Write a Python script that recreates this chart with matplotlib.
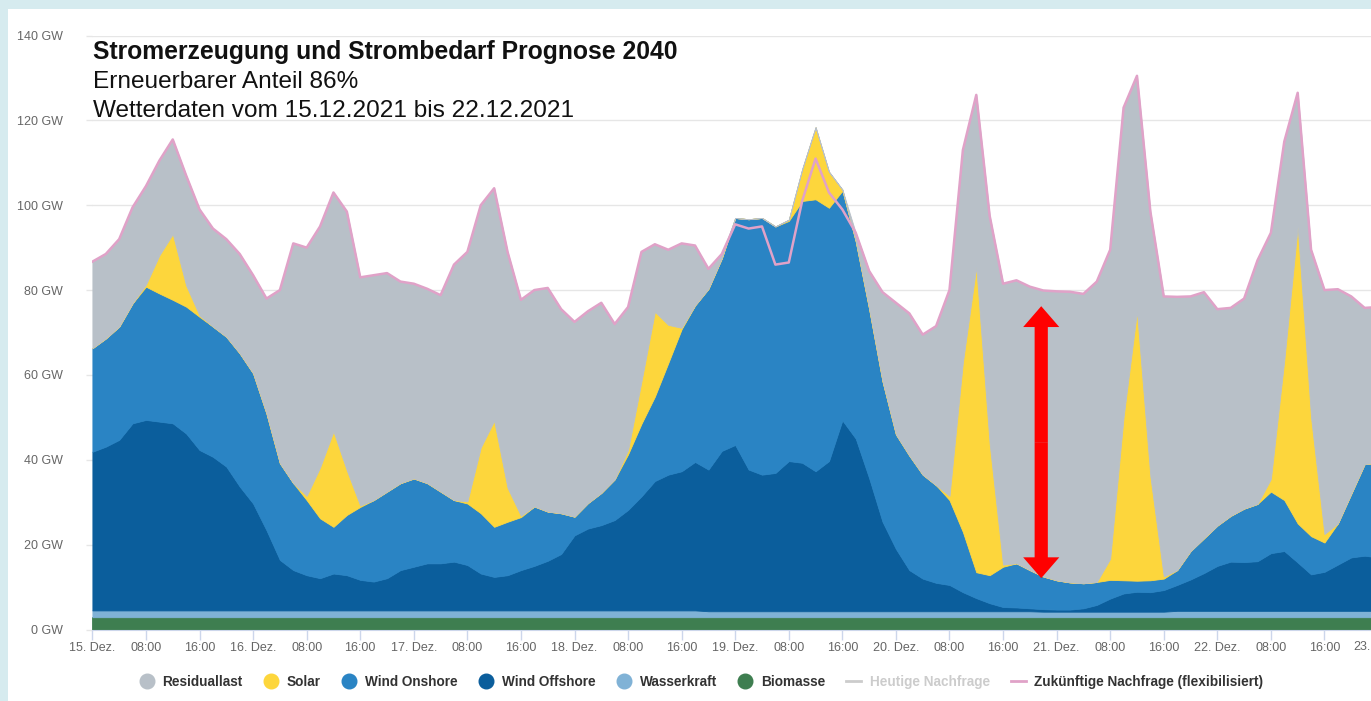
import numpy as np
import matplotlib.pyplot as plt
from matplotlib.lines import Line2D
from matplotlib.patches import Rectangle, FancyArrowPatch

plt.rcParams['font.family'] = ['Liberation Sans', 'DejaVu Sans']

# hours since 15.12. 00:00, one value every 2 hours (rows = days)
hours = np.arange(0, 193, 2)

# Zukuenftige Nachfrage (flexibilisiert), GW
demand = [
    86.7, 88.5, 92, 99.5, 104.5, 110.5, 115.5, 107, 99, 94.5, 92, 88.5,
    83.5, 78, 80, 91, 90, 95, 103, 98.5, 83, 83.5, 84, 82,
    81.5, 80.3, 78.8, 86, 89, 100, 104, 89, 77.7, 80, 80.5, 75.5,
    72.5, 75, 77, 72, 76, 89, 90.8, 89.5, 91, 90.5, 85, 88.5,
    95.5, 94.5, 95, 86, 86.5, 101, 111, 103, 99, 93.5, 84.5, 79.5,
    77, 74.5, 69.5, 71.5, 80, 113, 126, 97.5, 81.5, 82.3, 80.8, 79.9,
    79.7, 79.6, 79.1, 82, 89.5, 123, 130.5, 98.5, 78.5, 78.4, 78.5, 79.5,
    75.5, 75.8, 78, 87, 93.5, 115, 126.5, 89.5, 80, 80.2, 78.5, 75.8,
    76,
]

biomasse = [
    2.9, 2.9, 2.9, 2.9, 2.9, 2.9, 2.9, 2.9, 2.9, 2.9, 2.9, 2.9,
    2.9, 2.9, 2.9, 2.9, 2.9, 2.9, 2.9, 2.9, 2.9, 2.9, 2.9, 2.9,
    2.9, 2.9, 2.9, 2.9, 2.9, 2.9, 2.9, 2.9, 2.9, 2.9, 2.9, 2.9,
    2.9, 2.9, 2.9, 2.9, 2.9, 2.9, 2.9, 2.9, 2.9, 2.9, 2.9, 2.9,
    2.9, 2.9, 2.9, 2.9, 2.9, 2.9, 2.9, 2.9, 2.9, 2.9, 2.9, 2.9,
    2.9, 2.9, 2.9, 2.9, 2.9, 2.9, 2.9, 2.9, 2.9, 2.9, 2.9, 2.9,
    2.9, 2.9, 2.9, 2.9, 2.9, 2.9, 2.9, 2.9, 2.9, 2.9, 2.9, 2.9,
    2.9, 2.9, 2.9, 2.9, 2.9, 2.9, 2.9, 2.9, 2.9, 2.9, 2.9, 2.9,
    2.9,
]

wasserkraft = [
    1.6, 1.6, 1.6, 1.6, 1.6, 1.6, 1.6, 1.6, 1.6, 1.6, 1.6, 1.6,
    1.6, 1.6, 1.6, 1.6, 1.6, 1.6, 1.6, 1.6, 1.6, 1.6, 1.6, 1.6,
    1.6, 1.6, 1.6, 1.6, 1.6, 1.6, 1.6, 1.6, 1.6, 1.6, 1.6, 1.6,
    1.6, 1.6, 1.6, 1.6, 1.6, 1.6, 1.6, 1.6, 1.6, 1.6, 1.4, 1.4,
    1.4, 1.4, 1.4, 1.4, 1.4, 1.4, 1.4, 1.4, 1.4, 1.4, 1.4, 1.4,
    1.4, 1.4, 1.4, 1.4, 1.4, 1.4, 1.4, 1.4, 1.4, 1.4, 1.4, 1.3,
    1.3, 1.3, 1.3, 1.3, 1.3, 1.3, 1.3, 1.3, 1.3, 1.5, 1.5, 1.5,
    1.5, 1.5, 1.5, 1.5, 1.5, 1.5, 1.5, 1.5, 1.5, 1.5, 1.5, 1.5,
    1.5,
]

wind_offshore = [
    37.4, 38.6, 40.2, 44.1, 44.9, 44.5, 44.1, 41.7, 37.8, 36.2, 33.9, 29.2,
    25.2, 18.9, 11.9, 9.5, 8.3, 7.6, 8.7, 8.3, 7.2, 6.8, 7.6, 9.5,
    10.3, 11.1, 11.1, 11.5, 10.7, 8.7, 7.9, 8.3, 9.5, 10.5, 11.7, 13.3,
    17.7, 19.3, 20.1, 21.3, 23.7, 26.9, 30.5, 32, 32.8, 35, 33.4, 37.8,
    39.2, 33.4, 32.2, 32.6, 35.4, 35, 33, 35.4, 45, 40.7, 31.4, 21.1,
    14.7, 9.7, 7.7, 6.7, 6.2, 4.5, 3.1, 1.9, 1.0, 0.9, 0.7, 0.6,
    0.5, 0.5, 0.8, 1.6, 3.1, 4.3, 4.7, 4.6, 5.1, 6.1, 7.4, 8.9,
    10.6, 11.6, 11.5, 11.7, 13.6, 14.1, 11.4, 8.6, 9.2, 10.9, 12.6, 13,
    12.6,
]

wind_onshore = [
    24.4, 25.5, 26.7, 28.3, 31.4, 30.2, 29.1, 29.9, 31.4, 30.7, 30.6, 31.4,
    30.7, 27.5, 22.8, 20.5, 17.7, 14.1, 11, 14.2, 17.2, 19.2, 20.4, 20.5,
    20.8, 18.9, 16.9, 14.5, 14.5, 14.2, 11.8, 12.6, 12.5, 14, 11.6, 9.6,
    4.4, 6, 7.6, 9.6, 13.1, 17.1, 19.9, 26.3, 33.5, 36.9, 42.6, 45.4,
    53.5, 59, 60.5, 58.1, 56.6, 61.7, 64.1, 59.7, 54.1, 46.5, 39.9, 33.1,
    27, 27, 24.5, 23, 20, 14.2, 6.1, 6.6, 9.5, 10.4, 9, 7.7,
    6.9, 6.4, 5.9, 5.4, 4.4, 3.1, 2.6, 2.8, 2.7, 3.5, 6.7, 8.2,
    9.5, 10.8, 12.6, 13.5, 14.5, 12, 9.2, 9, 6.9, 9.7, 15, 21.6,
    22.3,
]

solar = [
    0, 0, 0, 0, 0.5, 9, 15.5, 5, 0.3, 0, 0, 0,
    0, 0, 0, 0, 1, 12, 22.5, 10.5, 0.3, 0, 0, 0,
    0, 0, 0, 0, 0.5, 15.5, 25, 8, 0.3, 0, 0, 0,
    0, 0, 0, 0, 1, 10, 20, 9, 0.3, 0, 0, 0,
    0, 0, 0, 0, 0.3, 7.5, 17, 8.5, 0.3, 0, 0, 0,
    0, 0, 0, 0, 1, 40, 72, 31, 0.5, 0, 0, 0,
    0, 0, 0, 0, 5, 38.5, 63.5, 24.5, 0.5, 0, 0, 0,
    0, 0, 0, 0, 3, 33, 70, 28, 2, 0, 0, 0,
    0,
]

days = ['15. Dez.', '16. Dez.', '17. Dez.', '18. Dez.', '19. Dez.',
        '20. Dez.', '21. Dez.', '22. Dez.']

colors = {
    'Residuallast': '#b8c0c8',
    'Solar': '#fdd63c',
    'Wind Onshore': '#2a84c4',
    'Wind Offshore': '#0b5e9c',
    'Wasserkraft': '#80b2d6',
    'Biomasse': '#3e7e50',
}
demand_color = '#e0a2c8'

# residual load fills the gap between generation and demand
generation = (np.array(biomasse) + np.array(wasserkraft) + np.array(wind_offshore)
              + np.array(wind_onshore) + np.array(solar))
residual = np.clip(np.array(demand) - generation, 0, None)

W, H = 1371, 701
fig = plt.figure(figsize=(W / 100, H / 100), dpi=100, facecolor='#d6ebef')
fig.patches.append(Rectangle((8 / W, 0), 1, (H - 9) / H, transform=fig.transFigure,
                             facecolor='white', edgecolor='none', zorder=-10))

left, right, top, bottom = 92.4, 1371, 35.5, 629.5
ax = fig.add_axes([left / W, 1 - bottom / H, (right - left) / W, (bottom - top) / H])
ax.set_facecolor('white')
ax.set_zorder(1)

layers = [biomasse, wasserkraft, wind_offshore, wind_onshore, solar, residual]
names = ['Biomasse', 'Wasserkraft', 'Wind Offshore', 'Wind Onshore', 'Solar', 'Residuallast']
polys = ax.stackplot(hours, *layers, colors=[colors[n] for n in names], linewidth=0.6, zorder=2)
for p, n in zip(polys, names):
    p.set_edgecolor(colors[n])

ax.plot(hours, demand, color=demand_color, lw=1.8, zorder=3)

# red double arrow
y_lo, y_hi, x_arrow = 12.1, 76.2, 141.7
y_mid = (y_lo + y_hi) / 2
for y_end in (y_lo, y_hi):
    ax.add_patch(FancyArrowPatch((x_arrow, y_mid), (x_arrow, y_end),
                                 arrowstyle='simple,head_length=15,head_width=26,tail_width=9.5',
                                 mutation_scale=1, shrinkA=0, shrinkB=0,
                                 color='#ff0000', lw=0, zorder=5))

ax.set_xlim(0, (right - left) / 6.696)
ax.set_ylim(0, 140)

xt = np.arange(0, 185, 8)
xl = [days[t // 24] if t % 24 == 0 else '%02d:00' % (t % 24) for t in xt]
ax.set_xticks(xt)
ax.set_xticklabels(xl)
yt = np.arange(0, 141, 20)
ax.set_yticks(yt)
ax.set_yticklabels(['%d GW' % v for v in yt])

ax.set_axisbelow(True)
ax.yaxis.grid(True, color='#e6e6e6', lw=1)
for s in ['top', 'right', 'left']:
    ax.spines[s].set_visible(False)
ax.spines['bottom'].set_color('#ccd6eb')
ax.tick_params(axis='x', length=7, width=1, color='#ccd6eb', labelsize=9,
               labelcolor='#666666', pad=2)
ax.tick_params(axis='y', length=4.5, width=1, color='#e6e6e6', labelsize=9,
               labelcolor='#666666', pad=17)

# the 23. Dez. label is cut by the right edge of the picture
fig.text(1353 / W, 1 - 641 / H, '23.', fontsize=9, color='#666666', ha='left', va='top',
         zorder=3)

fig.text(93 / W, 1 - 59 / H, 'Stromerzeugung und Strombedarf Prognose 2040',
         fontsize=17.8, fontweight='bold', color='#111111', va='baseline', zorder=3)
fig.text(93 / W, 1 - 88 / H, 'Erneuerbarer Anteil 86%', fontsize=17.6,
         color='#111111', va='baseline', zorder=3)
fig.text(93 / W, 1 - 117 / H, 'Wetterdaten vom 15.12.2021 bis 22.12.2021',
         fontsize=17.6, color='#111111', va='baseline', zorder=3)

handles = [Line2D([], [], ls='none', marker='o', markersize=10.5, color=colors[n])
           for n in ['Residuallast', 'Solar', 'Wind Onshore', 'Wind Offshore',
                     'Wasserkraft', 'Biomasse']]
handles += [Line2D([], [], color='#cccccc', lw=2), Line2D([], [], color=demand_color, lw=2)]
labels = ['Residuallast', 'Solar', 'Wind Onshore', 'Wind Offshore', 'Wasserkraft',
          'Biomasse', 'Heutige Nachfrage', 'Zukünftige Nachfrage (flexibilisiert)']
leg = fig.legend(handles, labels, loc='center', bbox_to_anchor=(701 / W, 1 - 682 / H),
                 ncol=8, frameon=False, prop={'weight': 'bold', 'size': 9.8},
                 handlelength=1.1, handletextpad=0.6, columnspacing=1.55)
for t in leg.get_texts():
    t.set_color('#333333')
leg.get_texts()[6].set_color('#cccccc')

fig.savefig('out.png', dpi=100, facecolor=fig.get_facecolor())
